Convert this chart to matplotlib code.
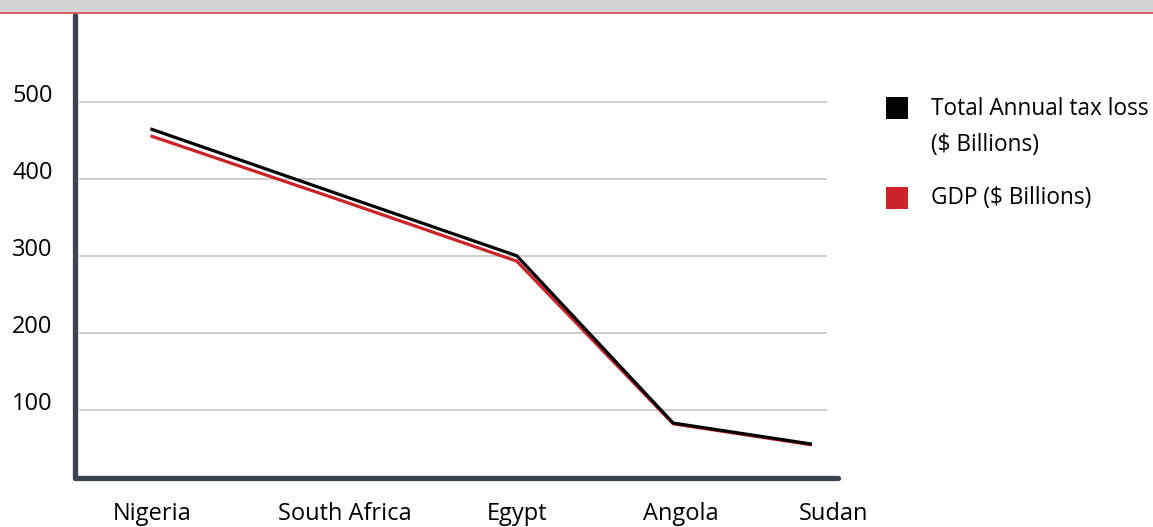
import matplotlib.pyplot as plt
from matplotlib.patches import Rectangle
from matplotlib.lines import Line2D
from matplotlib.transforms import ScaledTranslation

plt.rcParams['font.family'] = ['Open Sans', 'DejaVu Sans']

# data
countries = ["Nigeria", "South Africa", "Egypt", "Angola", "Sudan"]
tax_loss = [464, 377, 300, 83, 56]
gdp = [455, 370, 293, 82, 55]
y_ticks = [100, 200, 300, 400, 500]

# the source chart spaces the countries unevenly
x_points = [0, 1, 1.89, 2.70, 3.41]
x_labels = [0, 1, 1.89, 2.74, 3.53]

fig = plt.figure(figsize=(11.53, 5.27), dpi=100)
ax = fig.add_axes([0.065, 0.093, 0.6618, 0.878])

# top band
fig.patches.append(Rectangle((0, 1 - 12 / 527), 1, 12 / 527, transform=fig.transFigure,
                             facecolor="#d2d3d5", edgecolor="none"))
fig.lines.append(Line2D([0, 1], [1 - 12.5 / 527] * 2, transform=fig.transFigure,
                        color="#df4b55", lw=1.3))

ax.set_xlim(-0.399, 3.554)
ax.set_ylim(11.7, 612)

ax.hlines(y_ticks, -0.38, 3.497, color="#c4c4c4", lw=1.2, zorder=1)

ax.plot(x_points, gdp, color="#cc2229", lw=2.3, zorder=3)
ax.plot(x_points, tax_loss, color="#000000", lw=2.3, zorder=4)

for side in ["top", "right"]:
    ax.spines[side].set_visible(False)
for side in ["left", "bottom"]:
    ax.spines[side].set_color("#3b4452")
    ax.spines[side].set_linewidth(3.8)
    ax.spines[side].set_capstyle("round")

ax.set_yticks(y_ticks)
ax.set_yticklabels([str(v) for v in y_ticks], fontsize=17)
ax.set_xticks(x_labels)
ax.set_xticklabels(countries, fontsize=17)
ax.tick_params(axis="y", length=0, pad=16)
ax.tick_params(axis="x", length=0, pad=17)
for lab in ax.get_yticklabels():
    lab.set_transform(lab.get_transform() + ScaledTranslation(0, 0.09, fig.dpi_scale_trans))

# legend drawn by hand
W, H = 1153, 527
def fx(px):
    return px / W
def fy(py):
    return 1 - py / H

fig.patches.append(Rectangle((fx(886), fy(119)), 22 / W, 22 / H, transform=fig.transFigure,
                             facecolor="#000000", edgecolor="none"))
fig.patches.append(Rectangle((fx(886), fy(209)), 22 / W, 22 / H, transform=fig.transFigure,
                             facecolor="#cc2229", edgecolor="none"))
fig.text(fx(931), fy(109), "Total Annual tax loss", fontsize=16.3, va="center", ha="left")
fig.text(fx(931), fy(145), "($ Billions)", fontsize=16.3, va="center", ha="left")
fig.text(fx(931), fy(198), "GDP ($ Billions)", fontsize=16.3, va="center", ha="left")

fig.savefig("out.png", dpi=100)
